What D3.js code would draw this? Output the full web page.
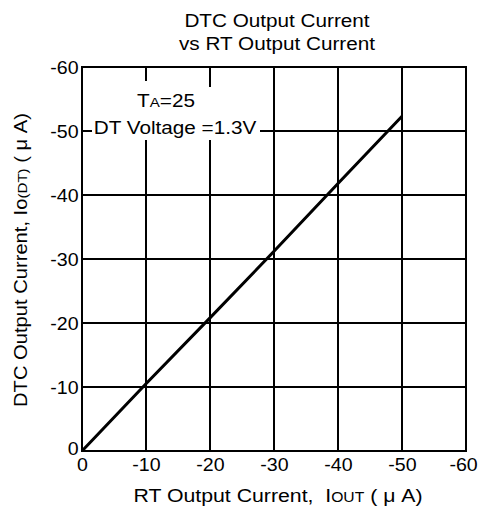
<!DOCTYPE html>
<html>
<head>
<meta charset="utf-8">
<script src="https://cdn.jsdelivr.net/npm/d3@7"></script>
<style>
  html, body { margin: 0; padding: 0; background: #fff; }
  svg text { font-family: "Liberation Sans", Arial, sans-serif; fill: #000; }
</style>
</head>
<body>
<svg id="chart" width="478" height="509"></svg>
<script>
// ---- data ----
const rtCurrent = [0, -10, -20, -30, -40, -50];          // RT output current (µA)
const dtcCurrent = [0, -10.5, -20.8, -31.2, -41.8, -52.3]; // DTC output current (µA)
const xTicks = [0, -10, -20, -30, -40, -50, -60];
const yTicks = [0, -10, -20, -30, -40, -50, -60];
const titleLines = ["DTC Output Current", "vs RT Output Current"];

// ---- layout ----
const L = 82, R = 466, T = 67, B = 451;
const SX = 1.12; // horizontal stretch of the lettering

const svg = d3.select("#chart");
const x = d3.scaleLinear().domain([0, -60]).range([L, R]);
const y = d3.scaleLinear().domain([0, -60]).range([B, T]);

// grid
const grid = svg.append("g").attr("stroke", "#000").attr("stroke-width", 2);
grid.selectAll("line.v").data(xTicks.slice(1, -1)).join("line")
  .attr("x1", d => x(d)).attr("x2", d => x(d)).attr("y1", T).attr("y2", B);
grid.selectAll("line.h").data(yTicks.slice(1, -1)).join("line")
  .attr("y1", d => y(d)).attr("y2", d => y(d)).attr("x1", L).attr("x2", R);

// white boxes behind the annotation
svg.append("rect").attr("x", 130).attr("y", 81).attr("width", 70).attr("height", 40).attr("fill", "#fff");
svg.append("rect").attr("x", 92).attr("y", 87).attr("width", 168).attr("height", 53).attr("fill", "#fff");

// frame
svg.append("rect").attr("x", L).attr("y", T).attr("width", R - L).attr("height", B - T)
  .attr("fill", "none").attr("stroke", "#000").attr("stroke-width", 2);

// axes (labels only)
const fmt = d => String(d);
const xAxis = svg.append("g").attr("transform", `translate(0,${B})`)
  .call(d3.axisBottom(x).tickValues(xTicks).tickSize(0).tickPadding(0).tickFormat(fmt));
xAxis.select(".domain").remove();
xAxis.selectAll("text")
  .attr("font-size", 17.5).attr("y", 20).attr("dy", null)
  .attr("text-anchor", d => d === -60 ? "end" : "middle")
  .attr("x", d => d === -60 ? 10 : 0)
  .attr("transform", `scale(${SX},1)`);

const yAxis = svg.append("g").attr("transform", `translate(${L},0)`)
  .call(d3.axisLeft(y).tickValues(yTicks).tickSize(0).tickPadding(0).tickFormat(fmt));
yAxis.select(".domain").remove();
yAxis.selectAll("text")
  .attr("font-size", 17.5).attr("x", -3).attr("dy", "0.36em")
  .attr("transform", d => `translate(0,${d === 0 ? -3 : 0}) scale(${SX},1)`);

// data line
svg.append("path")
  .datum(rtCurrent.map((v, i) => [v, dtcCurrent[i]]))
  .attr("fill", "none").attr("stroke", "#000").attr("stroke-width", 3)
  .attr("d", d3.line().x(d => x(d[0])).y(d => y(d[1])));

// title
svg.selectAll("text.title").data(titleLines).join("text")
  .attr("class", "title")
  .attr("text-anchor", "middle").attr("font-size", 18.5)
  .attr("transform", (d, i) => `translate(277,${27 + i * 23}) scale(${SX},1)`)
  .text(d => d);

// annotation
const ta = svg.append("text").attr("text-anchor", "middle").attr("font-size", 18.5)
  .attr("transform", `translate(166,107) scale(${SX},1)`);
ta.append("tspan").text("T");
ta.append("tspan").attr("font-size", 13.5).text("A");
ta.append("tspan").text("=25");
svg.append("text").attr("text-anchor", "middle").attr("font-size", 18.5)
  .attr("transform", `translate(175,134) scale(${SX},1)`)
  .text("DT Voltage =1.3V");

// x axis title
const xt = svg.append("text").attr("text-anchor", "middle").attr("font-size", 19)
  .attr("transform", `translate(278,502) scale(${SX},1)`);
xt.append("tspan").text("RT Output Current,\u00a0 I");
xt.append("tspan").attr("font-size", 14).text("OUT");
xt.append("tspan").text(" ( μ A)");

// y axis title
const yt = svg.append("text").attr("text-anchor", "middle").attr("font-size", 18)
  .attr("transform", `translate(27,260) rotate(-90) scale(${SX},1)`);
yt.append("tspan").text("DTC Output Current, Io");
yt.append("tspan").attr("font-size", 13.5).text("(DT)");
yt.append("tspan").text(" ( μ A)");
</script>
</body>
</html>
